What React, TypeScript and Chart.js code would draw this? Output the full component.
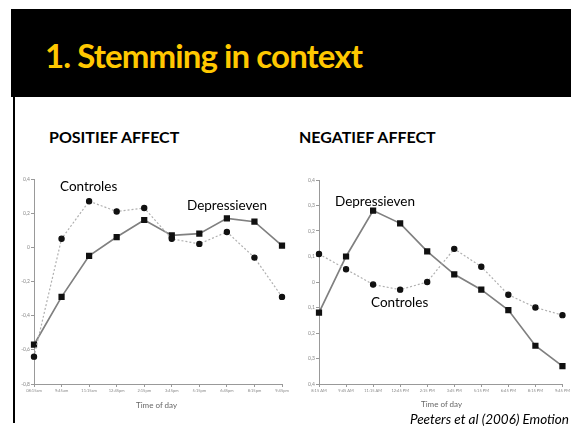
import React, { useEffect, useRef } from "react";
import { Chart, registerables } from "chart.js";

Chart.register(...registerables);

const leftLabels = ["08:15am", "9:45am", "11:15am", "12:45pm", "2:15pm", "3:45pm", "5:15pm", "6:45pm", "8:15pm", "9:45pm"];
const leftDepressieven = [-0.57, -0.29, -0.05, 0.06, 0.16, 0.07, 0.08, 0.17, 0.15, 0.01];
const leftControles = [-0.64, 0.05, 0.27, 0.21, 0.23, 0.05, 0.02, 0.09, -0.06, -0.29];

const rightLabels = ["8:15 AM", "9:45 AM", "11:15 AM", "12:45 PM", "2:15 PM", "3:45 PM", "5:15 PM", "6:45 PM", "8:15 PM", "9:45 PM"];
const rightDepressieven = [-0.12, 0.1, 0.28, 0.23, 0.12, 0.03, -0.03, -0.11, -0.25, -0.33];
const rightControles = [0.11, 0.05, -0.01, -0.03, 0.0, 0.13, 0.06, -0.05, -0.1, -0.13];

const FONT = "Lato, 'Open Sans', sans-serif";

function makeConfig(
  labels: string[],
  dep: number[],
  con: number[],
  min: number,
  max: number,
  step: number,
  fmt: (v: number) => string,
  padRight: number,
  padTop: number
): any {
  return {
    type: "line",
    data: {
      labels,
      datasets: [
        {
          label: "Controles",
          data: con,
          borderColor: "#b0b0b0",
          borderWidth: 1.2,
          borderDash: [2, 2],
          pointStyle: "circle",
          pointRadius: 2.6,
          pointBackgroundColor: "#111",
          pointBorderColor: "#111",
          tension: 0,
        },
        {
          label: "Depressieven",
          data: dep,
          borderColor: "#808080",
          borderWidth: 1.7,
          pointStyle: "rect",
          pointRadius: 3.2,
          pointBackgroundColor: "#111",
          pointBorderColor: "#111",
          tension: 0,
        },
      ],
    },
    options: {
      responsive: false,
      animation: false,
      devicePixelRatio: 1,
      layout: { padding: { top: padTop, right: padRight, left: 0, bottom: 0 } },
      plugins: { legend: { display: false }, tooltip: { enabled: false }, title: { display: false } },
      scales: {
        x: {
          type: "category",
          offset: false,
          grid: { display: true, drawOnChartArea: false, drawTicks: true, tickLength: 3, color: "#999" },
          border: { color: "#999", width: 1 },
          ticks: { font: { size: 4, family: FONT }, color: "#888", maxRotation: 0, autoSkip: false, padding: 1 },
          afterFit: (s: any) => {
            s.height = 31;
          },
        },
        y: {
          min,
          max,
          grid: { display: true, drawOnChartArea: false, drawTicks: true, tickLength: 3, color: "#999" },
          border: { color: "#999", width: 1 },
          ticks: {
            stepSize: step,
            font: { size: 5, family: FONT },
            color: "#888",
            padding: 1,
            callback: (v: any) => fmt(Number(v)),
          },
          afterFit: (s: any) => {
            s.width = 24;
          },
        },
      },
    },
  };
}

const fmtLeft = (v: number) => {
  const r = Math.round(v * 10) / 10;
  if (r === 0) return "0";
  return (r < 0 ? "-" : "") + Math.abs(r).toFixed(1).replace(".", ",");
};
const fmtRight = (v: number) => {
  const r = Math.round(v * 10) / 10;
  if (r === 0) return "0";
  return Math.abs(r).toFixed(1).replace(".", ",");
};

function ChartBox(props: { config: any; left: number; top: number; width: number; height: number }) {
  const ref = useRef<HTMLCanvasElement | null>(null);
  useEffect(() => {
    if (!ref.current) return;
    const c = new Chart(ref.current, props.config);
    return () => c.destroy();
  }, []);
  return (
    <canvas
      ref={ref}
      width={props.width}
      height={props.height}
      style={{ position: "absolute", left: props.left, top: props.top, width: props.width, height: props.height }}
    />
  );
}

const txt = (extra: React.CSSProperties): React.CSSProperties => ({
  position: "absolute",
  fontFamily: FONT,
  lineHeight: 1,
  whiteSpace: "nowrap",
  color: "#000",
  ...extra,
});

export default function App() {
  const leftCfg = makeConfig(leftLabels, leftDepressieven, leftControles, -0.8, 0.4, 0.2, fmtLeft, 8, 9);
  const rightCfg = makeConfig(rightLabels, rightDepressieven, rightControles, -0.4, 0.4, 0.1, fmtRight, 7, 10);
  return (
    <div style={{ position: "fixed", left: 0, top: 0, width: 571, height: 426, background: "#fff", overflow: "hidden" }}>
      <div style={{ position: "absolute", left: 11, top: 9, width: 560, height: 88, background: "#000" }} />
      <div style={{ position: "absolute", left: 13, top: 96, width: 2, height: 327, background: "#000" }} />
      <div style={txt({ left: 45, top: 39, fontSize: 33, fontWeight: 700, letterSpacing: -0.9, color: "#FFC800" })}>1. Stemming in context</div>

      <div style={txt({ left: 49, top: 129, fontSize: 16, fontWeight: 700, letterSpacing: 0 })}>POSITIEF AFFECT</div>
      <div style={txt({ left: 299, top: 129, fontSize: 16, fontWeight: 700, letterSpacing: 0 })}>NEGATIEF AFFECT</div>

      <ChartBox config={leftCfg} left={10} top={170} width={280} height={245} />
      <ChartBox config={rightCfg} left={295} top={170} width={276} height={245} />

      <div style={txt({ left: 60, top: 180, fontSize: 13.5 })}>Controles</div>
      <div style={txt({ left: 187, top: 199, fontSize: 13.5 })}>Depressieven</div>
      <div style={txt({ left: 335, top: 195, fontSize: 13.5 })}>Depressieven</div>
      <div style={txt({ left: 371, top: 296, fontSize: 13.5 })}>Controles</div>

      <div style={txt({ left: 136, top: 401, fontSize: 8, color: "#666" })}>Time of day</div>
      <div style={txt({ left: 421, top: 400, fontSize: 8, color: "#666" })}>Time of day</div>
      <div style={txt({ right: 2, top: 413, fontSize: 13.5, fontStyle: "italic" })}>Peeters et al (2006) Emotion</div>
    </div>
  );
}
